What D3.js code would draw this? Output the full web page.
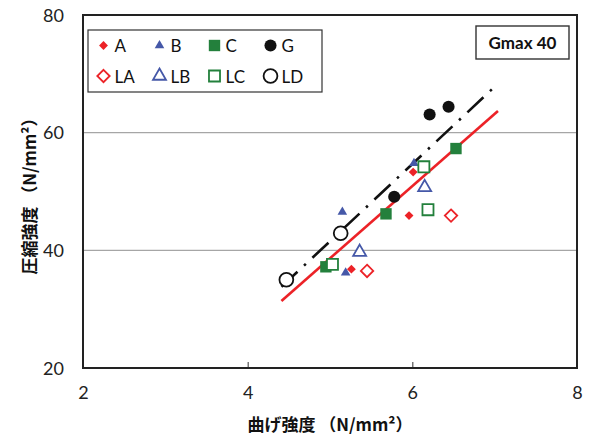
<!DOCTYPE html>
<html>
<head>
<meta charset="utf-8">
<script src="https://cdn.jsdelivr.net/npm/d3@7/dist/d3.min.js"></script>
<style>
  html, body { margin: 0; padding: 0; background: #fff; }
  svg { display: block; }
  .title { font-family: "Noto Sans CJK JP", sans-serif; font-weight: 700; font-size: 17px; fill: #111; }
  .leg { font-family: Lato, "Open Sans", sans-serif; font-size: 17px; fill: #111; }
</style>
</head>
<body>
<svg id="chart" width="595" height="437"></svg>
<script>
// Bending strength (x) vs compressive strength (y), Gmax 40 series
const xTicks = [2, 4, 6, 8];
const yTicks = [20, 40, 60, 80];

const seriesA  = [[5.96, 45.9], [6.01, 53.3], [5.26, 36.8]];
const seriesB  = [[6.02, 54.8], [5.15, 46.5], [5.19, 36.2]];
const seriesC  = [[6.53, 57.3], [5.68, 46.2], [4.95, 37.2]];
const seriesG  = [[6.21, 63.1], [6.44, 64.4], [5.78, 49.1]];
const seriesLA = [[6.47, 45.9], [5.45, 36.5]];
const seriesLB = [[6.15, 50.7], [5.36, 39.7]];
const seriesLC = [[6.14, 54.2], [6.19, 46.9], [5.03, 37.6]];
const seriesLD = [[5.13, 42.9], [4.47, 35.0]];

// Trend lines (start and end points)
const fitSolid   = [[4.41, 31.4], [7.04, 63.7]];
const fitDashDot = [[4.41, 33.8], [7.03, 68.2]];

const legendNames = ["A", "B", "C", "G", "LA", "LB", "LC", "LD"];

const RED = "#ec2227", BLUE = "#4558a8", GREEN = "#23803c", BLACK = "#111";
const TICK_FONT = "Lato, 'Open Sans', sans-serif";

const svg = d3.select("#chart");
const plot = { left: 83, right: 577, top: 15, bottom: 368 };

const x = d3.scaleLinear().domain([2, 8]).range([plot.left, plot.right]);
const y = d3.scaleLinear().domain([20, 80]).range([plot.bottom, plot.top]);

// grid lines
svg.append("g").selectAll("line").data([40, 60]).join("line")
  .attr("x1", plot.left).attr("x2", plot.right)
  .attr("y1", d => y(d)).attr("y2", d => y(d))
  .attr("stroke", "#a6a6a6").attr("stroke-width", 1.3);

// x axis ticks (inward)
const xAxis = d3.axisBottom(x).tickValues(xTicks).tickSize(-6).tickFormat(d3.format("d"));
const gx = svg.append("g").attr("transform", `translate(0,${plot.bottom})`).call(xAxis);
gx.select(".domain").remove();
gx.selectAll(".tick line").attr("stroke", "#333").attr("stroke-width", 1);
gx.selectAll(".tick text").attr("dy", 0).attr("y", 31)
  .style("font-family", TICK_FONT).style("font-size", "18px").attr("fill", "#222");

const yAxis = d3.axisLeft(y).tickValues(yTicks).tickSize(0).tickFormat(d3.format("d"));
const gy = svg.append("g").attr("transform", `translate(${plot.left},0)`).call(yAxis);
gy.select(".domain").remove();
gy.selectAll(".tick text").attr("x", -19).attr("dy", "0.35em")
  .style("font-family", TICK_FONT).style("font-size", "18px").attr("fill", "#222");

// plot frame
svg.append("rect")
  .attr("x", plot.left).attr("y", plot.top)
  .attr("width", plot.right - plot.left).attr("height", plot.bottom - plot.top)
  .attr("fill", "none").attr("stroke", "#222").attr("stroke-width", 2);

// trend lines
const line = d3.line().x(d => x(d[0])).y(d => y(d[1]));
svg.append("path").datum(fitSolid).attr("d", line)
  .attr("stroke", RED).attr("stroke-width", 2.6).attr("fill", "none");
svg.append("path").datum(fitDashDot).attr("d", line)
  .attr("stroke", BLACK).attr("stroke-width", 2.6).attr("fill", "none")
  .attr("stroke-dasharray", "22,9,2.5,9");

// marker shapes
const sym = {
  diamond: (s) => d3.symbol().type(d3.symbolDiamond2).size(s)(),
  triangle: (s) => d3.symbol().type(d3.symbolTriangle2).size(s)(),
  square: (s) => d3.symbol().type(d3.symbolSquare2).size(s)(),
  circle: (s) => d3.symbol().type(d3.symbolCircle).size(s)()
};

const markerStyles = {
  A:  { shape: "diamond",  size: 50,  fill: RED,   stroke: "none" },
  B:  { shape: "triangle", size: 66,  fill: BLUE,  stroke: "none" },
  C:  { shape: "square",   size: 165, fill: GREEN, stroke: "none" },
  G:  { shape: "circle",   size: 115, fill: BLACK, stroke: "none" },
  LA: { shape: "diamond",  size: 98,  fill: "#fff", stroke: RED },
  LB: { shape: "triangle", size: 120, fill: "#fff", stroke: BLUE },
  LC: { shape: "square",   size: 155, fill: "#fff", stroke: GREEN },
  LD: { shape: "circle",   size: 150, fill: "#fff", stroke: BLACK }
};

const seriesData = {
  A: seriesA, B: seriesB, C: seriesC, G: seriesG,
  LA: seriesLA, LB: seriesLB, LC: seriesLC, LD: seriesLD
};

// draw order: filled series behind open series
["LD", "C", "G", "B", "A", "LA", "LB", "LC"].forEach(name => {
  const st = markerStyles[name];
  svg.append("g").selectAll("path").data(seriesData[name]).join("path")
    .attr("transform", d => `translate(${x(d[0])},${y(d[1])})`)
    .attr("d", sym[st.shape](st.size))
    .attr("fill", st.fill).attr("stroke", st.stroke).attr("stroke-width", 1.8);
});

// legend
const legG = svg.append("g");
legG.append("rect").attr("x", 88).attr("y", 30).attr("width", 234).attr("height", 62)
  .attr("fill", "#fff").attr("stroke", "#333").attr("stroke-width", 1.2);
const legCols = [103.5, 159.5, 214.5, 270.5];
const legRows = [45.5, 76];
legendNames.forEach((name, i) => {
  const st = markerStyles[name];
  const cx = legCols[i % 4], cy = legRows[Math.floor(i / 4)];
  legG.append("path")
    .attr("transform", `translate(${cx},${cy})`)
    .attr("d", sym[st.shape](st.size))
    .attr("fill", st.fill).attr("stroke", st.stroke).attr("stroke-width", 1.8);
  legG.append("text").attr("class", "leg")
    .attr("x", cx + 11).attr("y", cy + 6.5).text(name);
});

// series label box
svg.append("rect").attr("x", 476).attr("y", 26).attr("width", 93).attr("height", 33)
  .attr("fill", "#fff").attr("stroke", "#333").attr("stroke-width", 1.4);
svg.append("text").attr("x", 522.5).attr("y", 49).attr("text-anchor", "middle")
  .style("font-family", TICK_FONT).style("font-weight", 700)
  .style("font-size", "17px").attr("fill", "#111").text("Gmax 40");

// axis titles
svg.append("text").attr("class", "title")
  .attr("x", 330).attr("y", 431).attr("text-anchor", "middle")
  .text("曲げ強度 （N/mm²）");
svg.append("text").attr("class", "title")
  .attr("transform", "translate(36,192) rotate(-90)").attr("text-anchor", "middle")
  .text("圧縮強度 （N/mm²）");
</script>
</body>
</html>
